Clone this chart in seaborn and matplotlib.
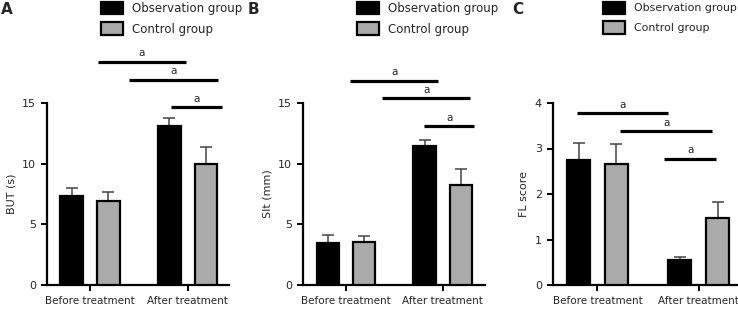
import numpy as np
import pandas as pd
import seaborn as sns
import matplotlib.pyplot as plt
from matplotlib.patches import Patch

# dados
tempos = ["Before treatment", "After treatment"]
grupos = ["Observation group", "Control group"]
cores = ["#000000", "#aaaaaa"]

but_obs = [7.3, 13.1]
but_obs_sd = [0.7, 0.7]
but_ctrl = [6.9, 10.0]
but_ctrl_sd = [0.8, 1.4]

sit_obs = [3.45, 11.45]
sit_obs_sd = [0.7, 0.5]
sit_ctrl = [3.55, 8.25]
sit_ctrl_sd = [0.45, 1.3]

fl_obs = [2.75, 0.56]
fl_obs_sd = [0.37, 0.06]
fl_ctrl = [2.65, 1.47]
fl_ctrl_sd = [0.44, 0.35]

# linhas de significancia: (y, x inicio, x fim)
sig_a = [(18.4, 0.08, 0.98), (16.9, 0.40, 1.31), (14.65, 0.83, 1.35)]
sig_b = [(16.85, 0.045, 0.955), (15.4, 0.375, 1.286), (13.1, 0.807, 1.327)]
sig_c = [(3.78, -0.20, 0.70), (3.38, 0.225, 1.135), (2.77, 0.66, 1.175)]

sns.set_style("ticks")
plt.rcParams['font.family'] = ['DejaVu Sans']

W, H = 738, 311
fig = plt.figure(figsize=(W / 100, H / 100), dpi=100)

paineis = [
    ("A", 47, 182, (-0.44, 1.423), (0, 15), [0, 5, 10, 15], "BUT (s)",
     but_obs, but_obs_sd, but_ctrl, but_ctrl_sd, sig_a),
    ("B", 303, 182, (-0.445, 1.437), (0, 15), [0, 5, 10, 15], "SIt (mm)",
     sit_obs, sit_obs_sd, sit_ctrl, sit_ctrl_sd, sig_b),
    ("C", 553, 188, (-0.44, 1.42), (0, 4), [0, 1, 2, 3, 4], "FL score",
     fl_obs, fl_obs_sd, fl_ctrl, fl_ctrl_sd, sig_c),
]
letra_x = {"A": 1, "B": 248, "C": 512}
leg_x = {"A": 101, "B": 357, "C": 603}
leg_fs = {"A": 8.5, "B": 8.5, "C": 7.9}

for letra, x0, largura, xlim, ylim, yticks, ylabel, obs, obs_sd, ctrl, ctrl_sd, sigs in paineis:
    ax = fig.add_axes([x0 / W, 26 / H, largura / W, 182 / H])
    df = pd.DataFrame({
        "tempo": tempos * 2,
        "grupo": [grupos[0]] * 2 + [grupos[1]] * 2,
        "valor": obs + ctrl,
    })
    sns.barplot(data=df, x="tempo", y="valor", hue="grupo", order=tempos,
                hue_order=grupos, palette=cores, width=0.75, gap=0.38,
                edgecolor="black", linewidth=1.6, errorbar=None,
                legend=False, ax=ax, zorder=3)

    # barras de erro (so para cima)
    barras = sorted(ax.patches, key=lambda p: p.get_x())
    medias = [obs[0], ctrl[0], obs[1], ctrl[1]]
    sds = [obs_sd[0], ctrl_sd[0], obs_sd[1], ctrl_sd[1]]
    xs = [p.get_x() + p.get_width() / 2 for p in barras]
    ax.errorbar(xs, medias, yerr=[np.zeros(4), sds], fmt="none",
                ecolor="#444444", elinewidth=1.1, capsize=4.5, capthick=1.1,
                zorder=1)

    for y, xa, xb in sigs:
        ax.plot([xa, xb], [y, y], color="black", lw=2.3, clip_on=False,
                solid_capstyle="butt")
        ax.annotate("a", xy=((xa + xb) / 2, y), xytext=(0, 2.5),
                    textcoords="offset points", ha="center", va="bottom",
                    fontsize=7.5, annotation_clip=False)

    ax.set_xlim(*xlim)
    ax.set_ylim(*ylim)
    ax.set_yticks(yticks)
    ax.set_xlabel("")
    ax.set_ylabel(ylabel, fontsize=8, labelpad=4)
    ax.tick_params(axis="both", width=1.4, length=4.5, color="black")
    ax.tick_params(axis="y", labelsize=8)
    ax.tick_params(axis="x", labelsize=7.5)
    sns.despine(ax=ax)
    for s in ["left", "bottom"]:
        ax.spines[s].set_linewidth(1.6)
        ax.spines[s].set_color("black")

    fs = leg_fs[letra]
    k = 8.5 / fs  # manter o tamanho dos quadrados igual
    handles = [Patch(facecolor=c, edgecolor="black", linewidth=1.6) for c in cores]
    ax.legend(handles, grupos, loc="upper left",
              bbox_to_anchor=(leg_x[letra] / W, 1 - 1.5 / H),
              bbox_transform=fig.transFigure, frameon=False, fontsize=fs,
              handlelength=1.9 * k, handleheight=1.25 * k,
              handletextpad=0.75 * k, labelspacing=0.65 * k,
              borderpad=0, borderaxespad=0)

    fig.text(letra_x[letra] / W, 1 - 2 / H, letra, fontsize=11,
             fontweight="bold", va="top", ha="left")

fig.savefig("out.png", dpi=100)
